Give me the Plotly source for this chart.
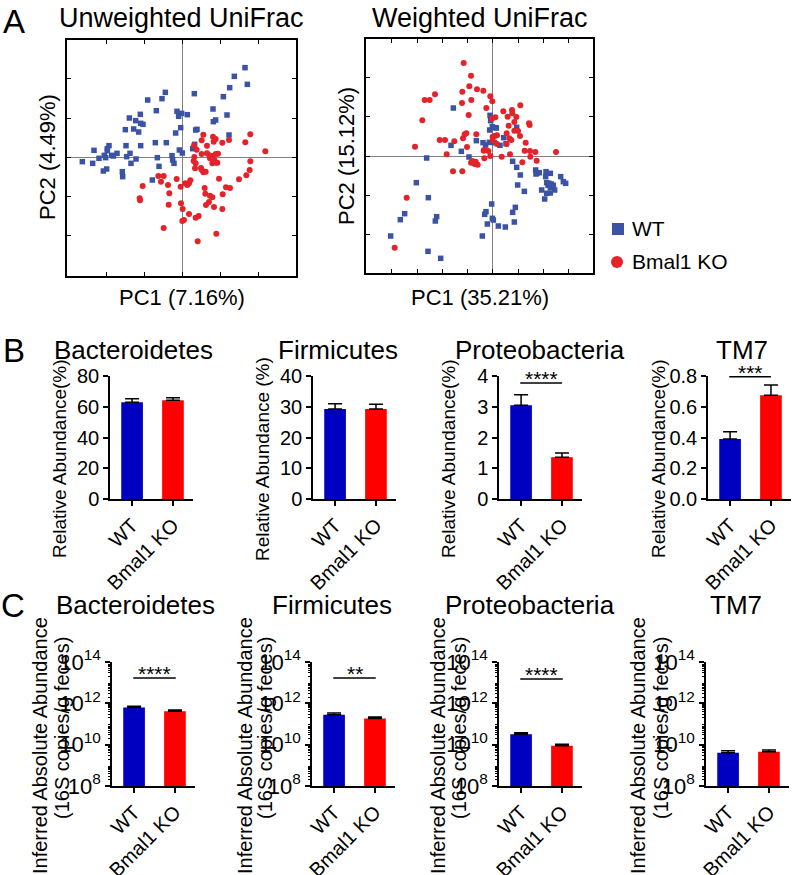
import math
import plotly.graph_objects as go

W, H = 793, 875
FONT = "Liberation Sans, Arial, sans-serif"
BLUE_PT, RED_PT = "#3a53a4", "#e4222a"
BLUE_BAR, RED_BAR = "#0000c0", "#ff0000"

groups = ["WT", "Bmal1 KO"]

# ---------------- Panel A : PCoA scores ----------------
uw_wt_x = [0.189,0.157,0.196,0.143,0.124,-0.050,-0.103,-0.060,0.037,-0.077,-0.125,-0.158,-0.139,-0.124,-0.117,-0.145,-0.130,-0.170,-0.015,-0.001,-0.010,0.016,0.093,0.135,0.101,0.094,-0.004,-0.019,0.041,0.045,0.141,0.038,0.032,-0.008,0.001,-0.047,-0.080,-0.124,-0.168,-0.219,-0.224,-0.224,-0.264,-0.195,-0.211,-0.233,-0.249,-0.229,-0.206,-0.166,-0.156,-0.138,-0.153,-0.299,-0.268,-0.236,-0.226,-0.179,-0.178,-0.074,-0.069,-0.089,-0.030,-0.028,-0.024]
uw_wt_y = [0.268,0.242,0.218,0.208,0.181,0.194,0.171,0.175,0.190,0.139,0.128,0.117,0.109,0.101,0.098,0.084,0.075,0.082,0.137,0.131,0.122,0.127,0.144,0.126,0.111,0.106,0.088,0.072,0.081,0.083,0.066,0.038,0.025,0.021,0.012,0.043,0.043,0.034,0.034,0.034,0.025,0.019,0.020,0.011,0.005,0.005,-0.004,-0.002,0.003,0.001,0.011,-0.006,-0.019,-0.014,-0.019,-0.042,-0.036,-0.044,-0.059,-0.002,-0.028,-0.069,0.004,-0.009,-0.019]
uw_ko_x = [0.205,0.190,0.250,0.205,0.203,0.193,0.171,0.144,0.132,0.122,0.121,0.111,0.108,0.101,0.093,0.101,0.095,0.121,0.141,0.064,0.059,0.075,0.036,0.044,0.059,0.075,0.082,0.091,0.091,0.102,0.106,0.097,0.037,0.035,0.041,0.039,0.057,0.059,0.064,0.071,0.084,0.025,0.021,0.010,0.016,-0.016,-0.004,-0.003,0.002,0.006,0.001,0.021,0.041,0.050,0.068,0.070,0.072,0.091,0.081,0.096,0.084,-0.055,-0.071,-0.063,-0.042,-0.118,-0.127,-0.126,-0.038,-0.040,-0.055,0.047,0.103]
uw_ko_y = [0.068,0.044,0.017,-0.013,-0.039,-0.055,-0.067,-0.093,-0.091,-0.112,-0.156,-0.065,0.010,0.009,0.061,0.054,0.046,0.043,0.051,0.067,0.050,0.034,0.035,0.022,0.009,0.011,0.005,0.003,-0.019,-0.017,-0.017,-0.009,0.000,-0.012,-0.019,-0.034,-0.033,-0.038,-0.046,-0.044,-0.004,-0.070,-0.079,-0.079,-0.084,-0.066,-0.089,-0.139,-0.156,-0.189,-0.192,-0.171,-0.182,-0.177,-0.093,-0.110,-0.144,-0.121,-0.135,-0.150,-0.116,-0.057,-0.057,-0.074,-0.084,-0.087,-0.124,-0.130,-0.109,-0.143,-0.213,-0.253,-0.230]

w_wt_x = [-0.118,-0.008,-0.006,-0.009,0.009,0.011,-0.001,0.072,0.033,-0.049,-0.029,-0.021,-0.010,0.005,0.022,0.040,-0.125,-0.094,-0.071,-0.198,0.060,0.072,0.083,0.075,0.095,0.129,0.133,0.140,0.130,0.160,0.173,0.159,0.162,0.169,0.166,0.176,0.173,0.182,0.186,0.147,0.162,0.173,0.156,0.204,0.212,0.219,-0.229,-0.193,-0.264,-0.277,-0.168,-0.172,-0.003,-0.020,-0.024,-0.016,-0.001,0.002,0.017,0.038,0.060,0.068,0.065,-0.031,-0.306,-0.194,-0.156]
w_wt_y = [0.144,0.122,0.106,0.078,0.085,0.084,0.088,0.086,0.055,0.046,0.040,0.033,0.041,0.040,0.032,0.037,0.032,0.014,-0.003,-0.006,-0.016,-0.034,-0.057,-0.087,-0.106,-0.042,-0.052,-0.050,-0.054,-0.047,-0.052,-0.062,-0.080,-0.082,-0.088,-0.084,-0.094,-0.088,-0.102,-0.102,-0.112,-0.111,-0.129,-0.062,-0.077,-0.082,-0.080,-0.125,-0.173,-0.191,-0.182,-0.195,-0.144,-0.167,-0.175,-0.204,-0.187,-0.192,-0.210,-0.213,-0.169,-0.154,-0.198,-0.240,-0.240,-0.286,-0.307]
w_ko_x = [-0.087,-0.065,-0.070,-0.091,-0.047,-0.028,-0.173,-0.204,-0.189,-0.064,-0.092,-0.007,-0.001,-0.019,0.083,0.058,0.032,0.059,0.045,0.071,0.008,-0.002,-0.211,-0.072,0.065,0.048,0.109,0.111,0.076,0.065,0.082,0.042,0.013,0.006,0.000,-0.159,-0.143,-0.115,-0.084,-0.079,-0.089,-0.049,0.000,0.050,0.013,0.042,0.056,0.099,-0.233,-0.077,-0.026,-0.022,-0.013,-0.027,0.096,0.112,0.128,0.190,-0.138,-0.007,0.027,0.052,0.113,0.132,0.089,-0.025,-0.061,-0.051,-0.045,-0.054,-0.065,-0.119,-0.091,-0.258,-0.294]
w_ko_y = [0.279,0.241,0.209,0.193,0.200,0.196,0.185,0.168,0.168,0.168,0.159,0.179,0.164,0.144,0.152,0.138,0.134,0.128,0.118,0.117,0.116,0.112,0.107,0.123,0.102,0.091,0.098,0.093,0.075,0.076,0.060,0.068,0.062,0.060,0.058,0.048,0.048,0.044,0.065,0.068,0.053,0.065,0.047,0.053,0.036,0.036,0.048,0.040,0.028,0.027,0.018,0.018,0.015,0.016,0.016,0.015,0.012,0.012,0.005,0.000,-0.002,0.005,-0.002,-0.014,-0.019,-0.007,-0.015,-0.017,-0.026,-0.024,-0.020,-0.046,-0.046,-0.125,-0.275]

# ---------------- Panel B : relative abundance (%) ----------------
phyla = ["Bacteroidetes", "Firmicutes", "Proteobacteria", "TM7"]
rel_mean = [[62.9, 64.2], [29.3, 29.3], [3.05, 1.36], [0.39, 0.674]]
rel_sem = [[2.3, 1.7], [1.7, 1.5], [0.34, 0.14], [0.048, 0.067]]
rel_ymax = [80, 40, 4, 0.8]
rel_dtick = [20, 10, 1, 0.2]
rel_ylabels = ["Relative Abundance(%)", "Relative Abundance (%)",
               "Relative Abundance(%)", "Relative Abundance(%)"]
rel_sig = [None, None, ("****", 3.77), ("***", 0.795)]

# ---------------- Panel C : inferred absolute abundance ----------------
abs_mean = [[6.2e11, 4.1e11], [2.8e11, 1.86e11], [3.16e10, 8.9e9], [4.07e9, 4.57e9]]
abs_sem = [[1.0e11, 0.7e11], [0.57e11, 0.33e11], [0.64e10, 1.6e9], [1.06e9, 0.93e9]]
abs_sig = [("****", 1.66e13), ("**", 1.66e13), ("****", 1.5e13), None]
abs_ticks = [1e8, 1e10, 1e12, 1e14]
abs_ticktext = ["10<sup>8</sup>", "10<sup>10</sup>", "10<sup>12</sup>", "10<sup>14</sup>"]


def xd(x0, x1):
    return [x0 / W, x1 / W]


def yd(y0, y1):
    return [(H - y1) / H, (H - y0) / H]


fig = go.Figure()
layout = dict(width=W, height=H, margin=dict(l=0, r=0, t=0, b=0, pad=0, autoexpand=False),
              paper_bgcolor="white", plot_bgcolor="white",
              font=dict(family=FONT, color="black"), showlegend=False)

# ---- scatter panels ----
sc_axes = [
    dict(dom=(67, 296, 40, 276), xr=[-0.345, 0.342], yr=[-0.357, 0.351],
         xt=[-0.228, -0.114, 0, 0.114, 0.228], yt=[-0.235, -0.117, 0, 0.117, 0.235],
         data=(uw_wt_x, uw_wt_y, uw_ko_x, uw_ko_y)),
    dict(dom=(366, 593, 39, 273), xr=[-0.380, 0.301], yr=[-0.351, 0.351],
         xt=[-0.303, -0.227, -0.151, -0.076, 0, 0.076, 0.151, 0.227],
         yt=[-0.236, -0.118, 0, 0.118, 0.236],
         data=(w_wt_x, w_wt_y, w_ko_x, w_ko_y)),
]
for i, a in enumerate(sc_axes, start=1):
    sfx = "" if i == 1 else str(i)
    x0, x1, y0, y1 = a["dom"]
    common = dict(showline=True, mirror="ticks", linecolor="black", linewidth=1.5,
                  ticks="inside", ticklen=4, tickwidth=1, tickcolor="black",
                  showticklabels=False, showgrid=False, zeroline=True,
                  zerolinecolor="#808080", zerolinewidth=1, automargin=False)
    layout["xaxis" + sfx] = dict(domain=xd(x0, x1), range=a["xr"], tickvals=a["xt"],
                                 anchor="y" + sfx, **common)
    layout["yaxis" + sfx] = dict(domain=yd(y0, y1), range=a["yr"], tickvals=a["yt"],
                                 anchor="x" + sfx, **common)
    wx, wy, kx, ky = a["data"]
    fig.add_trace(go.Scatter(x=wx, y=wy, mode="markers", xaxis="x" + sfx, yaxis="y" + sfx,
                             marker=dict(symbol="square", size=5.5, color=BLUE_PT), name="WT"))
    fig.add_trace(go.Scatter(x=kx, y=ky, mode="markers", xaxis="x" + sfx, yaxis="y" + sfx,
                             marker=dict(symbol="circle", size=6, color=RED_PT), name="Bmal1 KO"))

# ---- bar panels ----
bar_axes_x_B = [(110, 193), (313, 396), (499, 582), (708, 791)]
bar_axes_x_C = [(112, 195), (312, 395), (499, 582), (706, 789)]
yB = (376, 499)
yC = (662, 786)
bar_xrange = [-0.54, 1.49]

annotations = []
shapes = []


def bar_axis_common():
    return dict(showline=True, linecolor="black", linewidth=1.5, ticks="outside",
                ticklen=5, tickwidth=1.5, tickcolor="black", showgrid=False,
                zeroline=False, automargin=False, tickfont=dict(size=20, family=FONT))


for k in range(4):
    sfx = str(3 + k)
    x0, x1 = bar_axes_x_B[k]
    layout["xaxis" + sfx] = dict(domain=xd(x0, x1), range=bar_xrange, anchor="y" + sfx,
                                 tickvals=[0, 1], ticktext=groups, tickangle=-45,
                                 **bar_axis_common())
    ya = dict(domain=yd(*yB), range=[0, rel_ymax[k]], anchor="x" + sfx,
              dtick=rel_dtick[k], tick0=0, **bar_axis_common())
    if k == 3:
        ya["tickformat"] = ".1f"
    layout["yaxis" + sfx] = ya
    fig.add_trace(go.Bar(x=[0, 1], y=rel_mean[k], width=0.53, xaxis="x" + sfx, yaxis="y" + sfx,
                         marker=dict(color=[BLUE_BAR, RED_BAR], line=dict(width=0)),
                         error_y=dict(type="data", symmetric=False, array=rel_sem[k],
                                      arrayminus=[0, 0], color="black", thickness=1.5, width=7)))
    if rel_sig[k]:
        txt, h = rel_sig[k]
        fig.add_trace(go.Scatter(x=[-0.02, 1.0], y=[h, h], mode="lines", xaxis="x" + sfx,
                                 yaxis="y" + sfx, line=dict(color="black", width=1.5),
                                 hoverinfo="skip"))
        annotations.append(dict(x=0.49, y=h, xref="x" + sfx, yref="y" + sfx, text=txt,
                                showarrow=False, yanchor="bottom", yshift=-9,
                                font=dict(size=21, family=FONT)))

minor_vals = [m * 10 ** e for e in range(8, 14) for m in range(2, 10)]
for k in range(4):
    sfx = str(7 + k)
    x0, x1 = bar_axes_x_C[k]
    layout["xaxis" + sfx] = dict(domain=xd(x0, x1), range=bar_xrange, anchor="y" + sfx,
                                 tickvals=[0, 1], ticktext=groups, tickangle=-45,
                                 **bar_axis_common())
    ya = dict(domain=yd(*yC), type="log", range=[8, 14], anchor="x" + sfx,
              tickvals=abs_ticks, ticktext=abs_ticktext,
              minor=dict(tickvals=minor_vals, ticks="outside", ticklen=2.5,
                         tickwidth=1, tickcolor="black"),
              **bar_axis_common())
    ya["tickfont"] = dict(size=22, family=FONT)
    layout["yaxis" + sfx] = ya
    fig.add_trace(go.Bar(x=[0, 1], y=abs_mean[k], width=0.53, xaxis="x" + sfx, yaxis="y" + sfx,
                         marker=dict(color=[BLUE_BAR, RED_BAR], line=dict(width=0)),
                         error_y=dict(type="data", symmetric=False, array=abs_sem[k],
                                      arrayminus=[0, 0], color="black", thickness=1.5, width=7)))
    if abs_sig[k]:
        txt, h = abs_sig[k]
        fig.add_trace(go.Scatter(x=[-0.02, 1.02], y=[h, h], mode="lines", xaxis="x" + sfx,
                                 yaxis="y" + sfx, line=dict(color="black", width=1.5),
                                 hoverinfo="skip"))
        annotations.append(dict(x=0.5, y=math.log10(h), xref="x" + sfx, yref="y" + sfx,
                                text=txt, showarrow=False, yanchor="bottom", yshift=-9,
                                font=dict(size=21, family=FONT)))


def ptext(text, x, y, size, angle=0, anchor="center"):
    annotations.append(dict(text=text, x=x / W, y=(H - y) / H, xref="paper", yref="paper",
                            xanchor=anchor, yanchor="middle", showarrow=False,
                            textangle=angle, font=dict(size=size, family=FONT)))


# panel letters
ptext("A", 14, 22, 33)
ptext("B", 14, 350, 33)
ptext("C", 13, 605, 33)

# Panel A titles
ptext("Unweighted UniFrac", 181, 18, 27)
ptext("Weighted UniFrac", 480, 18, 27)
ptext("PC1 (7.16%)", 182, 298, 22)
ptext("PC1 (35.21%)", 480, 298, 22)
ptext("PC2 (4.49%)", 48, 157, 22, -90)
ptext("PC2 (15.12%)", 346, 156, 22, -90)

# legend
ptext("WT", 630, 229, 21, anchor="left")
ptext("Bmal1 KO", 630, 262, 21, anchor="left")
shapes.append(dict(type="rect", xref="paper", yref="paper", x0=612 / W, x1=624 / W,
                   y0=(H - 235) / H, y1=(H - 223) / H, fillcolor=BLUE_PT, line=dict(width=0)))
shapes.append(dict(type="circle", xref="paper", yref="paper", x0=611 / W, x1=623 / W,
                   y0=(H - 268) / H, y1=(H - 256) / H, fillcolor=RED_PT, line=dict(width=0)))

# Panel B titles and axis titles
B_title_x = [133, 338, 540, 742]
B_ylab_x = [59, 262, 448, 658]
for k in range(4):
    ptext(phyla[k], B_title_x[k], 350, 26)
    ptext(rel_ylabels[k], B_ylab_x[k], 459, 19, -90)

# Panel C titles and axis titles
C_title_x = [135, 332, 530, 736]
C_yl1_x = [40, 245, 438, 638]
C_yl2_x = [62, 265, 459, 661]
for k in range(4):
    ptext(phyla[k], C_title_x[k], 605, 26)
    ptext("Inferred Absolute Abundance", C_yl1_x[k], 746, 20, -90)
    ptext("(16S copies/g feces)", C_yl2_x[k], 728, 20, -90)

layout["annotations"] = annotations
layout["shapes"] = shapes
fig.update_layout(**layout)
fig.write_html("out.html", config={"displayModeBar": False},
               post_script="document.body.style.margin='0px';"
                           "document.body.style.overflow='hidden';")
